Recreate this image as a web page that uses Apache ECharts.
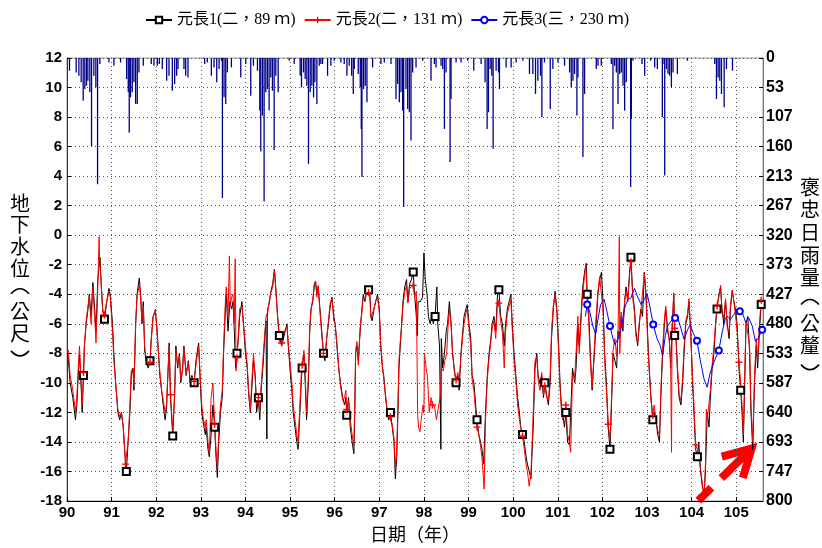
<!DOCTYPE html>
<html>
<head>
<meta charset="utf-8">
<script src="https://cdn.jsdelivr.net/npm/echarts@6/dist/echarts.min.js"></script>
<style>
html, body { margin: 0; padding: 0; background: #fff; }
#main { width: 822px; height: 548px; }
</style>
</head>
<body>
<div id="main"></div>
<script>
// 元長1 地下水位 [年, 公尺]
const well1 = [[90.02,-8],[90.07,-10],[90.13,-11],[90.19,-12.5],[90.22,-11.5],[90.26,-9],[90.28,-8],[90.32,-10.5],[90.34,-12],[90.37,-9.5],[90.39,-7.5],[90.43,-6],[90.47,-5],[90.50,-4],[90.54,-5.5],[90.58,-3.2],[90.62,-5],[90.65,-6.5],[90.69,-3],[90.74,-1.5],[90.77,-3.5],[90.80,-5],[90.84,-5.7],[90.89,-4.5],[90.94,-3.6],[90.97,-4],[91.02,-6],[91.05,-8],[91.09,-10],[91.14,-12],[91.18,-12.5],[91.22,-12],[91.26,-13],[91.29,-14.5],[91.33,-16],[91.37,-14],[91.41,-12],[91.44,-9.5],[91.48,-9],[91.50,-10.5],[91.54,-6],[91.57,-4],[91.62,-2.9],[91.65,-4],[91.68,-6],[91.71,-4.5],[91.74,-7.8],[91.78,-8.6],[91.82,-9],[91.86,-8.5],[91.89,-7],[91.93,-5.5],[91.98,-5.2],[92.01,-6],[92.05,-8],[92.08,-9.5],[92.12,-10.5],[92.16,-11.6],[92.20,-12.5],[92.23,-11.8],[92.29,-7.3],[92.32,-11],[92.37,-13.6],[92.41,-11],[92.44,-7.5],[92.48,-9],[92.52,-8],[92.55,-10],[92.59,-9],[92.62,-7.5],[92.67,-9.5],[92.72,-8.5],[92.76,-10],[92.80,-9.5],[92.85,-10],[92.89,-8.5],[92.95,-7.3],[92.98,-9.5],[93.02,-12],[93.06,-12.8],[93.10,-13.5],
[93.12,-13],[93.16,-14.5],[93.19,-15],[93.23,-13.5],[93.27,-11.5],[93.31,-13],[93.34,-15],[93.37,-16.4],[93.40,-14],[93.44,-12],[93.48,-11],[93.51,-8],[93.55,-5],[93.57,-4],[93.61,-6.5],[93.65,-4.5],[93.69,-5],[93.72,-4.5],[93.75,-6.5],[93.78,-9],[93.81,-8],[93.84,-7],[93.87,-5.5],[93.92,-4.5],[94.00,-8],[94.04,-9],[94.07,-10.7],[94.11,-12],[94.15,-10],[94.18,-8.5],[94.22,-9.5],[94.25,-12],[94.29,-11],[94.32,-12.5],[94.35,-10.5],[94.39,-9],[94.43,-7],[94.46,-5.8],[94.48,-13.8],[94.49,-5.5],[94.50,-5],[94.54,-4.5],[94.57,-3.8],[94.61,-3.3],[94.65,-2.3],[94.69,-4],[94.72,-5.5],[94.76,-6.8],[94.81,-7.5],[94.85,-7],[94.89,-6.5],[94.93,-6],[94.96,-7.5],[95.01,-9.5],[95.04,-10.5],[95.07,-12],[95.11,-13],[95.15,-14],[95.18,-14.5],[95.22,-12],[95.25,-10],[95.27,-9],[95.31,-8],[95.34,-10],[95.37,-12.5],[95.41,-10],[95.44,-6.5],[95.47,-5],[95.51,-4.5],[95.54,-3.5],[95.57,-3.1],[95.60,-4],[95.63,-3.5],[95.67,-5],[95.71,-6.5],[95.75,-8],[95.78,-8.5],[95.82,-7],[95.86,-6],[95.90,-4.8],[95.94,-4.2],[95.98,-5.5],[96.01,-6],[96.05,-7.5],[96.09,-9],[96.13,-10],[96.18,-11],[96.22,-11.5],[96.25,-11],
[96.27,-12.2],[96.31,-11],[96.35,-13],[96.39,-14],[96.43,-14.8],[96.45,-12],[96.47,-8],[96.50,-7.5],[96.53,-8.5],[96.57,-6.5],[96.61,-5],[96.64,-4],[96.68,-4.5],[96.72,-3.5],[96.76,-3.7],[96.79,-4],[96.81,-5.5],[96.84,-5.8],[96.88,-5],[96.92,-4.5],[96.96,-4],[97.00,-5],[97.03,-7.5],[97.07,-9],[97.10,-9.5],[97.14,-11],[97.18,-12],[97.21,-12.5],[97.25,-12],[97.29,-13],[97.33,-14],[97.36,-16.5],[97.39,-15],[97.41,-13],[97.44,-9],[97.47,-7.5],[97.50,-6],[97.53,-4.5],[97.57,-3.5],[97.61,-3],[97.64,-4.5],[97.68,-3.3],[97.72,-3],[97.76,-2.5],[97.79,-4],[97.83,-5.5],[97.85,-6.8],[97.87,-4.5],[97.92,-4.5],[97.97,-4.2],[98.00,-1.2],[98.03,-3],[98.07,-4],[98.10,-5.5],[98.14,-6],[98.18,-5.5],[98.21,-6],[98.25,-5.5],[98.29,-3.5],[98.31,-6],[98.35,-7.5],[98.38,-14.5],[98.39,-7],[98.42,-9],[98.46,-8],[98.50,-6.5],[98.53,-6],[98.57,-4.5],[98.61,-6],[98.64,-8],[98.68,-9],[98.72,-10],[98.76,-9.5],[98.79,-10.5],[98.83,-8],[98.87,-6.5],[98.90,-5.5],[98.94,-5],[98.97,-4.7],[99.01,-6],[99.05,-7],[99.08,-9.5],[99.12,-10],[99.16,-11.5],[99.19,-12.5],[99.23,-13.5],[99.27,-14],[99.30,-14.5],[99.34,-15.5],
[99.38,-12],[99.42,-9.5],[99.46,-8],[99.50,-7],[99.53,-6],[99.57,-5.5],[99.61,-6.5],[99.65,-4],[99.68,-3.7],[99.72,-5.5],[99.76,-6],[99.80,-7.5],[99.83,-6],[99.87,-5],[99.91,-4.5],[99.95,-4],[99.98,-6],[100.02,-8],[100.06,-9.5],[100.10,-11],[100.14,-12],[100.17,-13],[100.21,-13.5],[100.25,-14],[100.29,-15],[100.32,-15.5],[100.36,-15.5],[100.40,-16.5],[100.42,-15],[100.45,-13],[100.49,-9],[100.53,-8],[100.56,-9.5],[100.60,-10],[100.64,-9.5],[100.68,-11],[100.71,-10],[100.75,-10.8],[100.79,-11.5],[100.83,-10],[100.86,-7],[100.90,-5],[100.94,-3.8],[100.98,-5],[101.02,-7.5],[101.05,-10],[101.08,-11.5],[101.11,-12],[101.15,-13],[101.18,-12],[101.22,-14],[101.26,-14.2],[101.29,-12],[101.33,-9],[101.38,-10],[101.41,-9],[101.45,-6],[101.48,-7.5],[101.53,-5],[101.56,-3.5],[101.60,-2.5],[101.64,-1.9],[101.66,-4],[101.69,-5],[101.73,-8],[101.77,-10.5],[101.80,-9],[101.83,-7.5],[101.86,-6],[101.90,-4],[101.94,-3],[101.98,-2.5],[102.02,-5],[102.05,-8],[102.09,-10],[102.13,-13],[102.17,-14.5],[102.20,-12],[102.24,-8],[102.28,-8.5],[102.32,-9],[102.35,-6.5],[102.39,-7],[102.42,-5.5],[102.46,-6.5],[102.50,-4.5],
[102.53,-3.5],[102.57,-4.3],[102.61,-2.5],[102.64,-1.5],[102.68,-4],[102.72,-5],[102.75,-6.5],[102.79,-7.5],[102.83,-6],[102.86,-5],[102.90,-5.5],[102.94,-2.5],[102.98,-4],[103.01,-6.5],[103.05,-9],[103.09,-11],[103.13,-12.5],[103.16,-12],[103.20,-12.5],[103.24,-13.5],[103.28,-14],[103.31,-11],[103.35,-8],[103.39,-6],[103.42,-5],[103.46,-6.5],[103.50,-7],[103.53,-9],[103.57,-6],[103.60,-4],[103.62,-6.8],[103.65,-7],[103.68,-9],[103.72,-11],[103.76,-11.5],[103.80,-10],[103.83,-8],[103.87,-6],[103.91,-5.5],[103.94,-4.5],[103.98,-6.5],[104.02,-10],[104.06,-12.5],[104.09,-14.5],[104.13,-15],[104.16,-14],[104.20,-16],[104.24,-17],[104.28,-17.5],[104.31,-16],[104.35,-12],[104.39,-13],[104.42,-11],[104.46,-9],[104.50,-8],[104.54,-6],[104.57,-5],[104.61,-4],[104.65,-3.5],[104.68,-5],[104.72,-6],[104.76,-4.5],[104.80,-6],[104.84,-7],[104.87,-5],[104.91,-3.8],[104.95,-4.5],[104.98,-5],[105.02,-6],[105.06,-9],[105.10,-10.5],[105.13,-12],[105.16,-14],[105.19,-10],[105.22,-6],[105.26,-5.5],[105.30,-8],[105.33,-12],[105.37,-14.5],[105.41,-10],[105.45,-7.5],[105.48,-9],[105.52,-6.5],[105.56,-4.7],[105.60,-5]];

// 元長2 地下水位 [年, 公尺]
const well2 = [[90.00,-8],[90.03,-7.8],[90.07,-9.5],[90.13,-10.5],[90.19,-12],[90.22,-11],[90.26,-8.5],[90.28,-7.5],[90.32,-10],[90.34,-11.5],[90.37,-9.3],[90.39,-7.5],[90.43,-5.8],[90.47,-4.8],[90.50,-4.2],[90.54,-6],[90.58,-3.5],[90.62,-5.5],[90.65,-7.3],[90.69,-3.5],[90.72,-0.1],[90.73,-1.5],[90.77,-3.5],[90.80,-5.2],[90.84,-5.4],[90.89,-4.5],[90.94,-3.8],[90.97,-4.2],[91.02,-6.5],[91.05,-8.5],[91.09,-10],[91.14,-11.8],[91.18,-12.3],[91.22,-12],[91.26,-13],[91.29,-14.2],[91.31,-15.5],[91.37,-14],[91.41,-11.5],[91.44,-9.2],[91.48,-9],[91.50,-10.2],[91.54,-5.8],[91.57,-4.2],[91.62,-3.3],[91.65,-4.2],[91.68,-5.8],[91.71,-4.8],[91.74,-7.5],[91.78,-8.5],[91.82,-8.8],[91.86,-8.6],[91.89,-7],[91.93,-5.5],[91.98,-5],[92.01,-6.2],[92.05,-8],[92.08,-9.2],[92.12,-10.5],[92.16,-11.2],[92.20,-12],[92.23,-11.5],[92.29,-7.5],[92.32,-10.8],[92.37,-13.2],[92.41,-11],[92.44,-7.8],[92.48,-8.8],[92.52,-8.2],[92.55,-9.8],[92.59,-9.2],[92.62,-7.6],[92.67,-9.4],[92.72,-8.6],[92.76,-9.8],[92.80,-9.6],[92.85,-9.9],[92.89,-8.8],[92.95,-7.5],[92.98,-9.3],[93.02,-11.5],[93.06,-12.5],[93.10,-13],
[93.12,-12.5],[93.16,-14],[93.19,-14.8],[93.23,-11],[93.27,-10],[93.31,-12.8],[93.34,-14.5],[93.37,-15.8],[93.40,-13.5],[93.44,-11.5],[93.48,-10.5],[93.51,-7.5],[93.55,-4.5],[93.57,-3.5],[93.61,-5.5],[93.64,-1.4],[93.66,-4.8],[93.69,-4.2],[93.72,-4],[93.75,-6],[93.77,-1.6],[93.79,-9.2],[93.81,-8.3],[93.84,-6.8],[93.87,-5],[93.92,-4.8],[94.00,-7.5],[94.04,-8.8],[94.07,-10.5],[94.11,-11.8],[94.15,-9.5],[94.18,-8],[94.22,-9.8],[94.25,-11.5],[94.29,-11],[94.32,-12],[94.35,-10.3],[94.39,-8.5],[94.43,-6.8],[94.46,-5.5],[94.50,-5.2],[94.54,-4.3],[94.57,-3.9],[94.61,-3.5],[94.65,-2.4],[94.69,-4.2],[94.72,-5.5],[94.76,-7.2],[94.81,-7.3],[94.85,-6.8],[94.89,-6.4],[94.93,-6.2],[94.96,-7.3],[95.01,-9],[95.04,-10],[95.07,-11.5],[95.11,-12.5],[95.15,-13.5],[95.18,-14],[95.22,-11.5],[95.25,-9.5],[95.27,-8.8],[95.31,-7.8],[95.34,-9.6],[95.37,-12],[95.41,-9.5],[95.44,-6.3],[95.47,-5],[95.51,-4.3],[95.54,-3.3],[95.57,-3.1],[95.60,-4.2],[95.63,-3.4],[95.67,-5.2],[95.71,-6.8],[95.75,-8],[95.78,-8.3],[95.82,-7],[95.86,-5.8],[95.90,-4.6],[95.94,-4.3],[95.98,-5.8],[96.01,-6],[96.05,-7.3],[96.09,-9],[96.13,-10.2],[96.18,-11.2],[96.22,-11],[96.25,-10.5],
[96.27,-11.8],[96.31,-11.2],[96.35,-12.5],[96.39,-13.5],[96.43,-14.2],[96.45,-11.5],[96.47,-7.8],[96.50,-7.2],[96.53,-8.8],[96.57,-6.3],[96.61,-5.2],[96.64,-4.2],[96.68,-4.4],[96.72,-3.8],[96.76,-3.9],[96.79,-4.2],[96.81,-5.6],[96.84,-5.6],[96.88,-5],[96.92,-4.4],[96.96,-4.2],[97.00,-5.2],[97.03,-7.2],[97.07,-8.8],[97.10,-9.8],[97.14,-10.8],[97.18,-12],[97.21,-12.2],[97.25,-12.3],[97.29,-12.8],[97.33,-13.8],[97.36,-15.8],[97.39,-14.5],[97.41,-12.5],[97.44,-8.5],[97.47,-7.2],[97.50,-6.2],[97.53,-4.8],[97.57,-3.8],[97.61,-3.4],[97.64,-4.6],[97.68,-3.6],[97.72,-3.5],[97.76,-3.4],[97.79,-4.2],[97.83,-3.8],[97.86,-12.2],[97.88,-13],[97.91,-13.3],[97.94,-12.5],[97.98,-11.5],[98.00,-12],[98.01,-8],[98.05,-9],[98.08,-9.6],[98.12,-12],[98.16,-11],[98.19,-11.5],[98.24,-11.6],[98.28,-12.5],[98.32,-12.4],[98.36,-11],[98.39,-9],[98.43,-9.2],[98.47,-8.5],[98.51,-8],[98.54,-6.2],[98.57,-5],[98.61,-6.2],[98.64,-7.8],[98.68,-9.2],[98.72,-9.8],[98.76,-9.3],[98.79,-10],[98.83,-8.2],[98.87,-6.8],[98.90,-6],[98.94,-5.3],[98.97,-5],[99.01,-6.3],[99.05,-7.5],[99.08,-9.8],[99.12,-10.5],[99.16,-12],[99.19,-13],[99.23,-13.5],[99.27,-14.3],[99.30,-15],[99.35,-17.2],
[99.38,-12.5],[99.42,-9.8],[99.46,-8.3],[99.50,-7.2],[99.53,-6.3],[99.57,-5.8],[99.61,-7],[99.65,-4.4],[99.68,-4.6],[99.72,-5.8],[99.76,-6.6],[99.80,-9],[99.83,-6.5],[99.87,-5.3],[99.91,-4.8],[99.95,-4.4],[99.98,-6.3],[100.02,-8.5],[100.06,-9.8],[100.10,-11.5],[100.14,-12.5],[100.17,-13],[100.21,-13.6],[100.25,-14.5],[100.29,-15.5],[100.32,-16],[100.36,-17],[100.40,-16],[100.42,-14.5],[100.45,-12],[100.49,-8.5],[100.53,-8.2],[100.56,-9.8],[100.60,-10.5],[100.64,-9.3],[100.68,-10.8],[100.71,-10.2],[100.75,-11],[100.79,-11.2],[100.83,-9.5],[100.86,-6.5],[100.90,-4.8],[100.94,-4],[100.98,-5.3],[101.02,-8],[101.05,-10.3],[101.08,-11.8],[101.11,-12.5],[101.15,-12.6],[101.18,-11.5],[101.22,-13.5],[101.26,-14],[101.29,-14.7],[101.33,-9.5],[101.38,-9.6],[101.41,-8],[101.45,-5.5],[101.48,-8],[101.53,-5.3],[101.56,-3.8],[101.60,-2.8],[101.63,-2],[101.66,-4.7],[101.69,-5.5],[101.73,-8.5],[101.77,-10.3],[101.80,-8.8],[101.83,-7],[101.86,-5.5],[101.90,-3.8],[101.94,-2.8],[101.98,-2.7],[102.02,-5.3],[102.05,-8.5],[102.09,-10.5],[102.13,-12.8],[102.17,-13.8],[102.20,-11.5],[102.24,-7.8],[102.28,-7],[102.32,-8.2],[102.35,-6.8],[102.38,-0.1],[102.39,-8],[102.42,-5.2],[102.46,-6.3],[102.50,-4.3],
[102.53,-3.8],[102.57,-4.5],[102.61,-2.7],[102.64,-1.8],[102.68,-4.2],[102.72,-5.3],[102.75,-6.8],[102.79,-7.3],[102.83,-5.8],[102.86,-5.2],[102.90,-5.3],[102.94,-2.6],[102.98,-4.3],[103.01,-6.8],[103.05,-9.2],[103.09,-11.2],[103.13,-12.2],[103.16,-11.5],[103.20,-12.5],[103.24,-13.2],[103.28,-13.6],[103.31,-10.5],[103.35,-7.8],[103.39,-5.7],[103.42,-4.8],[103.46,-6.2],[103.50,-7.2],[103.53,-8.5],[103.55,-14.7],[103.56,-6.5],[103.60,-3.9],[103.62,-6.3],[103.65,-6.8],[103.68,-8.8],[103.72,-10.8],[103.76,-11.2],[103.80,-9.6],[103.83,-7.6],[103.87,-5.8],[103.91,-5.3],[103.94,-4.3],[103.98,-6.8],[104.02,-9.5],[104.06,-12],[104.09,-14.2],[104.13,-14.5],[104.16,-14.6],[104.20,-15.8],[104.24,-16.8],[104.28,-17.8],[104.31,-15.5],[104.33,-11.8],[104.35,-12.5],[104.39,-12.6],[104.42,-10.5],[104.46,-8.8],[104.50,-7.5],[104.54,-5.8],[104.57,-4.8],[104.61,-4.2],[104.65,-3.4],[104.68,-5.2],[104.72,-5.6],[104.76,-4.3],[104.80,-6.3],[104.84,-6.6],[104.87,-4.8],[104.91,-3.7],[104.95,-4.6],[104.98,-5.3],[105.02,-6.5],[105.06,-8.6],[105.10,-10],[105.13,-11.5],[105.16,-13.5],[105.19,-9.5],[105.22,-5.8],[105.26,-5.8],[105.30,-7.5],[105.33,-11.5],[105.37,-14],[105.41,-9.5],[105.45,-7],[105.48,-8.5],[105.52,-6],[105.56,-4.4],[105.60,-5]];

// 元長3 地下水位 [年, 公尺]
const well3 = [[101.62,-5.5],[101.66,-4.7],[101.71,-5.1],[101.79,-6.2],[101.85,-6.7],[101.90,-5.7],[101.96,-4.7],[102.04,-4.35],[102.09,-5],[102.17,-6.15],[102.24,-7.05],[102.28,-7.4],[102.35,-7],[102.43,-6.2],[102.49,-5],[102.57,-4.35],[102.64,-4.25],[102.72,-3.6],[102.78,-4.1],[102.87,-4.7],[102.94,-4.35],[103.00,-3.95],[103.05,-4.6],[103.14,-6.05],[103.22,-6.95],[103.30,-7.5],[103.35,-8.2],[103.41,-6.8],[103.46,-6.15],[103.52,-5.9],[103.57,-5.7],[103.63,-5.6],[103.70,-5.7],[103.76,-6.3],[103.83,-7.05],[103.91,-6.4],[103.97,-6.05],[104.03,-6.6],[104.12,-7.15],[104.19,-8.4],[104.28,-9.75],[104.35,-10.3],[104.41,-9.4],[104.50,-8.6],[104.61,-7.8],[104.69,-6.5],[104.76,-5.6],[104.81,-5.5],[104.87,-5.7],[104.95,-5.35],[105.02,-5.05],[105.08,-5.15],[105.15,-5.35],[105.21,-5.9],[105.28,-5.6],[105.36,-6.15],[105.43,-7.2],[105.49,-7],[105.58,-6.4]];

// 褒忠日雨量 [年, 公釐]
const rain = [[90.056,23],[90.206,26],[90.266,32],[90.318,44],[90.363,77],[90.400,56],[90.438,50],[90.468,41],[90.512,62],[90.550,159],[90.602,32],[90.647,53],[90.685,228],[90.737,11],[90.939,8],[91.051,14],[91.201,8],[91.336,38],[91.373,62],[91.395,135],[91.425,71],[91.463,62],[91.500,44],[91.538,83],[91.575,83],[91.612,26],[91.710,14],[91.889,11],[91.949,14],[92.024,14],[92.069,11],[92.136,20],[92.233,41],[92.286,32],[92.361,59],[92.413,47],[92.458,32],[92.488,20],[92.622,20],[92.660,32],[92.712,35],[93.086,11],[93.146,8],[93.236,32],[93.296,17],[93.356,44],[93.408,20],[93.461,5],[93.483,253],[93.520,71],[93.558,83],[93.595,26],[93.685,17],[93.895,35],[94.007,11],[94.119,68],[94.179,14],[94.269,23],[94.321,95],[94.343,169],[94.381,104],[94.418,259],[94.456,62],[94.493,56],[94.530,95],[94.568,35],[94.605,59],[94.643,166],[94.680,32],[94.733,62],[94.979,5],[95.092,11],[95.226,32],[95.256,53],[95.301,26],[95.339,38],[95.376,50],[95.413,191],[95.451,62],[95.488,50],[95.526,71],[95.556,44],[95.600,83],[95.653,14],[95.690,11],[95.728,11],[95.840,32],[95.915,14],[95.990,5],[96.139,8],[96.214,11],[96.274,32],[96.326,14],[96.379,32],[96.416,65],[96.438,20],[96.528,29],[96.573,53],[96.596,128],[96.611,215],[96.648,56],[96.685,50],[96.723,80],[96.850,17],[97.037,11],[97.112,8],[97.262,11],[97.374,74],[97.411,47],[97.449,80],[97.486,62],[97.523,95],[97.546,269],[97.598,56],[97.636,92],[97.673,98],[97.710,149],[97.748,26],[97.823,17],[97.972,5],[98.159,41],[98.234,11],[98.272,17],[98.384,14],[98.421,20],[98.459,128],[98.496,26],[98.586,188],[98.608,74],[98.721,8],[98.833,8],[98.982,5],[99.117,23],[99.282,11],[99.371,44],[99.416,128],[99.446,98],[99.484,20],[99.521,32],[99.551,164],[99.618,23],[99.671,26],[99.693,56],[99.843,17],[99.955,17],[100.067,8],[100.217,5],[100.366,29],[100.441,29],[100.501,65],[100.554,41],[100.614,32],[100.644,107],[100.703,8],[100.831,92],[100.891,20],[101.003,8],[101.152,14],[101.265,26],[101.302,53],[101.340,41],[101.377,29],[101.429,104],[101.452,35],[101.564,179],[101.601,65],[101.863,20],[101.901,14],[101.975,14],[102.200,11],[102.237,128],[102.275,14],[102.312,26],[102.350,83],[102.387,29],[102.424,26],[102.462,50],[102.499,95],[102.536,44],[102.634,233],[102.649,110],[102.686,5],[102.888,11],[102.948,32],[103.082,5],[103.172,17],[103.232,20],[103.344,107],[103.382,11],[103.397,212],[103.434,20],[103.472,29],[103.509,32],[103.547,53],[103.584,26],[103.681,29],[103.906,5],[104.519,11],[104.557,74],[104.594,35],[104.631,41],[104.669,65],[104.729,89],[104.781,20],[104.916,23]];

// 標記點所在年份
const mark1 = [90.37, 90.86, 91.33, 91.86, 92.35, 92.86, 93.31, 93.81, 94.29, 94.76, 95.27, 95.75, 96.27, 96.76, 97.25, 97.76, 98.25, 98.72, 99.19, 99.68, 100.21, 100.71, 101.18, 101.66, 102.17, 102.64, 103.13, 103.62, 104.13, 104.57, 105.10, 105.56];
const mark2 = [90.37, 90.84, 91.31, 91.86, 92.32, 92.85, 93.31, 93.81, 94.29, 94.81, 95.27, 95.75, 96.27, 96.76, 97.25, 97.76, 98.19, 98.72, 99.19, 99.68, 100.21, 100.71, 101.18, 101.66, 102.13, 102.64, 103.13, 103.62, 104.09, 104.57, 105.06, 105.56];
const mark3 = [101.66, 102.17, 103.14, 103.63, 104.12, 104.61, 105.08, 105.58];

// 紅色箭頭 (起點, 終點)
const arrowPts = [[104.15, -17.98], [105.38, -14.33]];

const names = ['元長1(二，89 ｍ)', '元長2(二，131 ｍ)', '元長3(三，230 ｍ)'];
const leftTitle = ['地', '下', '水', '位', '(', '公', '尺', ')'];
const rightTitle = ['褒', '忠', '日', '雨', '量', '(', '公', '釐', ')'];

function withMarks(pts, marks) {
    const idx = new Set(marks.map(m => {
        let best = 0;
        pts.forEach((p, i) => {
            if (Math.abs(p[0] - m) < Math.abs(pts[best][0] - m)) best = i;
        });
        return best;
    }));
    return pts.map((p, i) => idx.has(i) ? { value: p } : { value: p, symbol: 'none' });
}

// 直書標題，括號畫成 ︵ ︶
function vertTitle(chars, x, y0, step) {
    return chars.map((c, i) => {
        const y = y0 + i * step;
        if (c === '(' || c === ')') {
            const s = c === '(' ? 1 : -1;
            return {
                type: 'bezierCurve', silent: true,
                shape: { x1: x - 9, y1: y + 4 * s, cpx1: x, cpy1: y - 6 * s, x2: x + 9, y2: y + 4 * s },
                style: { stroke: '#000', lineWidth: 1.6, fill: null }
            };
        }
        return {
            type: 'text', silent: true,
            x: x, y: y,
            style: {
                text: c, align: 'center', verticalAlign: 'middle',
                fill: '#000', font: '20px "Noto Sans CJK TC"'
            }
        };
    });
}

const tickFont = { color: '#000', fontWeight: 'bold', fontSize: 15, fontFamily: 'Liberation Sans, Arial' };
const dotted = { show: true, lineStyle: { color: '#555', type: [1, 3], width: 1 } };
const plusIcon = 'path://M4,0h2v4h4v2h-4v4h-2v-4h-4v-2h4z';

const chart = echarts.init(document.getElementById('main'));
const option = {
    animation: false,
    backgroundColor: '#fff',
    legend: {
        left: 140,
        top: 7,
        itemWidth: 26,
        itemHeight: 8,
        itemGap: 8,
        textStyle: { color: '#000', fontSize: 16, fontFamily: 'Liberation Serif, Noto Sans CJK TC' },
        data: names
    },
    grid: {
        left: 67, right: 59, top: 58, bottom: 45,
        show: true, borderColor: '#999', borderWidth: 1
    },
    xAxis: {
        type: 'value',
        min: 90, max: 105.6, interval: 1,
        name: '日期（年）',
        nameLocation: 'middle',
        nameGap: 24,
        nameTextStyle: { color: '#000', fontSize: 18, fontFamily: 'Noto Sans CJK TC' },
        axisLine: { onZero: false, lineStyle: { color: '#000' } },
        axisTick: { inside: true, length: 4, lineStyle: { color: '#000' } },
        axisLabel: Object.assign({ margin: 4, showMaxLabel: false }, tickFont),
        splitLine: dotted
    },
    yAxis: [{
        type: 'value',
        min: -18, max: 12, interval: 2,
        position: 'left',
        axisLine: { show: true, lineStyle: { color: '#333' } },
        axisTick: { show: true, inside: true, length: 4, lineStyle: { color: '#000' } },
        axisLabel: Object.assign({ margin: 5 }, tickFont),
        splitLine: dotted
    }, {
        type: 'value',
        min: 0, max: 800, interval: 800 / 15,
        inverse: true,
        position: 'right',
        axisLine: { show: true, lineStyle: { color: '#777' } },
        axisTick: { show: true, inside: true, length: 4, lineStyle: { color: '#000' } },
        axisLabel: Object.assign({}, tickFont, { margin: 3, fontSize: 16, formatter: v => Math.round(v) }),
        splitLine: { show: false }
    }],
    graphic: vertTitle(leftTitle, 20, 203, 21.7).concat(vertTitle(rightTitle, 810, 187, 22.7)),
    series: [{
        type: 'bar',
        yAxisIndex: 1,
        barWidth: 1.3,
        itemStyle: { color: '#00008b' },
        data: rain,
        silent: true
    }, {
        name: names[0],
        type: 'line',
        symbol: 'emptyRect',
        symbolSize: 7,
        showSymbol: true,
        lineStyle: { color: '#000', width: 1 },
        itemStyle: { color: '#000', borderColor: '#000', borderWidth: 1 },
        data: withMarks(well1, mark1)
    }, {
        name: names[1],
        type: 'line',
        symbol: plusIcon,
        symbolSize: 7,
        showSymbol: true,
        lineStyle: { color: '#ff0000', width: 1 },
        itemStyle: { color: '#ff0000' },
        data: withMarks(well2, mark2)
    }, {
        name: names[2],
        type: 'line',
        symbol: 'emptyCircle',
        symbolSize: 6,
        showSymbol: true,
        lineStyle: { color: '#0000ff', width: 1 },
        itemStyle: { color: '#0000ff', borderColor: '#0000ff', borderWidth: 1 },
        data: withMarks(well3, mark3)
    }]
};
chart.setOption(option);

// 箭頭依資料座標換算
const p0 = chart.convertToPixel({ xAxisIndex: 0, yAxisIndex: 0 }, arrowPts[0]);
const p1 = chart.convertToPixel({ xAxisIndex: 0, yAxisIndex: 0 }, arrowPts[1]);
const dx = p1[0] - p0[0], dy = p1[1] - p0[1];
const len = Math.sqrt(dx * dx + dy * dy);
const ux = dx / len, uy = dy / len;
const at = t => [p0[0] + ux * len * t, p0[1] + uy * len * t];
const base = at(0.62);
const wing = 15;
const arrowStyle = { stroke: '#ff0000', lineWidth: 8, fill: null, lineJoin: 'miter', lineCap: 'butt' };
chart.setOption({
    graphic: option.graphic.concat([
        { type: 'polyline', silent: true, shape: { points: [at(0), at(0.24)] }, style: arrowStyle },
        { type: 'polyline', silent: true, shape: { points: [at(0.42), at(0.97)] }, style: arrowStyle },
        {
            type: 'polyline', silent: true,
            shape: { points: [[base[0] - uy * wing, base[1] + ux * wing], at(0.97), [base[0] + uy * wing, base[1] - ux * wing]] },
            style: arrowStyle
        }
    ])
});
</script>
</body>
</html>
